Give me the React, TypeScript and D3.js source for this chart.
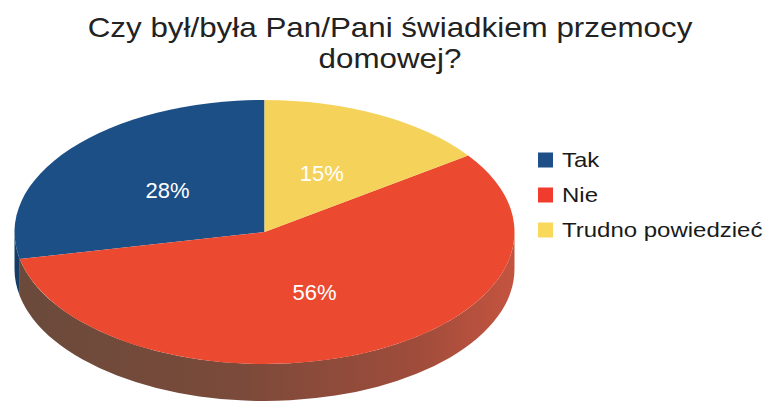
import React from "react";
import * as d3 from "d3";

const categories = ["Tak", "Nie", "Trudno powiedzieć"];
const values = [28, 56, 15];
const labels = ["28%", "56%", "15%"];
const topColors = ["#1d4f87", "#ec4a30", "#f5d35b"];
const sideColors = ["#173c66", "url(#redSide)", "#b89a3c"];
const legendColors = ["#1f4f88", "#f23b2f", "#f8d95c"];
const titleLines = ["Czy był/była Pan/Pani świadkiem przemocy", "domowej?"];

const W = 767,
  H = 403;
const cx = 264.5,
  cy = 232,
  rx = 250,
  ry = 132,
  depth = 37;
const k = ry / rx;

const App = () => {
  const pie = d3
    .pie<number>()
    .sort(null)
    .startAngle(0)
    .endAngle(-2 * Math.PI);
  const arcs = pie(values);
  const arc = d3
    .arc<d3.PieArcDatum<number>>()
    .innerRadius(0)
    .outerRadius(rx);

  // outer wall of a slice, only the front half is visible
  const sidePath = (d: d3.PieArcDatum<number>) => {
    const lo = Math.min(d.startAngle, d.endAngle) + 2 * Math.PI;
    const hi = Math.max(d.startAngle, d.endAngle) + 2 * Math.PI;
    const s = Math.max(lo, Math.PI / 2);
    const e = Math.min(hi, (3 * Math.PI) / 2);
    if (s >= e) return null;
    const D = depth / k;
    const p = d3.path();
    p.moveTo(rx * Math.sin(s), -rx * Math.cos(s));
    p.arc(0, 0, rx, s - Math.PI / 2, e - Math.PI / 2, false);
    p.lineTo(rx * Math.sin(e), -rx * Math.cos(e) + D);
    p.arc(0, D, rx, e - Math.PI / 2, s - Math.PI / 2, true);
    p.closePath();
    return p.toString();
  };

  return (
    <svg
      width={W}
      height={H}
      style={{ position: "absolute", left: 0, top: 0, background: "#fff" }}
      fontFamily="'Liberation Sans', Arial, sans-serif"
    >
      <defs>
        <linearGradient
          id="redSide"
          gradientUnits="userSpaceOnUse"
          x1={-rx}
          x2={rx}
          y1={0}
          y2={0}
        >
          <stop offset="0%" stopColor="#6a4a3b" />
          <stop offset="45%" stopColor="#7b4a3a" />
          <stop offset="80%" stopColor="#9f4c3b" />
          <stop offset="100%" stopColor="#c4543f" />
        </linearGradient>
      </defs>

      <g transform={`translate(390,0) scale(1.12,1)`} fill="#222">
        {titleLines.map((t, i) => (
          <text key={i} x={0} y={37 + i * 31} fontSize={28} textAnchor="middle">
            {t}
          </text>
        ))}
      </g>

      <g transform={`translate(${cx},${cy}) scale(1,${k})`}>
        {arcs.map((d, i) => {
          const sp = sidePath(d);
          return sp ? <path key={i} d={sp} fill={sideColors[i]} /> : null;
        })}
        {arcs.map((d, i) => (
          <path key={i} d={arc(d) || ""} fill={topColors[i]} />
        ))}
      </g>

      {arcs.map((d, i) => {
        const [x, y] = arc.centroid(d);
        return (
          <text
            key={i}
            x={cx + x}
            y={cy + y * k}
            dy="0.35em"
            fontSize={22}
            fill="#fff"
            textAnchor="middle"
          >
            {labels[i]}
          </text>
        );
      })}

      {categories.map((c, i) => (
        <g key={c} transform={`translate(538,${160 + i * 35})`}>
          <rect x={0} y={-7.5} width={15} height={15} fill={legendColors[i]} />
          <text
            transform="translate(24,7) scale(1.2,1)"
            fontSize={20}
            fill="#1a1a1a"
          >
            {c}
          </text>
        </g>
      ))}
    </svg>
  );
};

export default App;
